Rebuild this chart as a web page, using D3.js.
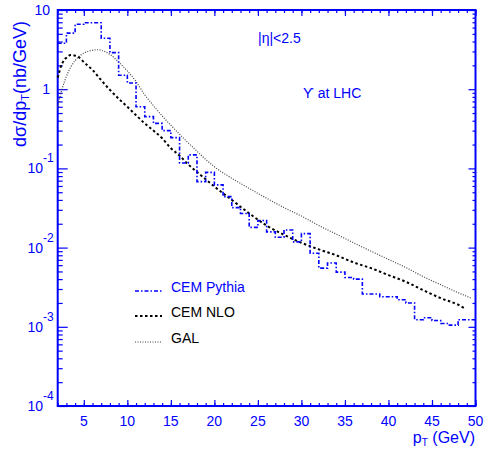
<!DOCTYPE html>
<html>
<head>
<meta charset="utf-8">
<script src="https://cdn.jsdelivr.net/npm/d3@7"></script>
<style>
  body { margin: 0; background: #fff; }
  text { font-family: "Liberation Sans", Arial, sans-serif; }
</style>
</head>
<body>
<div id="chart"></div>
<script>
// pT bin lower edges (1 GeV bins) and CEM Pythia histogram contents
var pythiaBins = [2,3,4,5,6,7,8,9,10,11,12,13,14,15,16,17,18,19,20,21,22,23,24,25,
  26,27,28,29,30,31,32,33,34,35,36,37,38,39,40,41,42,43,44,45,46,47,48,49];
var pythiaVals = [3.8,5.1,6.6,6.9,6.9,4.4,2.9,1.5,1.2,0.6,0.45,0.37,0.3,0.245,0.117,0.148,
  0.068,0.089,0.062,0.044,0.032,0.027,0.018,0.022,0.0158,0.0135,0.0167,0.0118,0.015,
  0.0085,0.0055,0.0064,0.0049,0.0042,0.004,0.0026,0.0026,0.0024,0.0024,0.0022,0.002,
  0.00123,0.0013,0.0012,0.0011,0.00105,0.00123,0.00123];

// CEM NLO curve
var nloPt = [2,2.5,3,3.5,4,4.5,5,6,7,8,9,10,11,12,13,14,15,16,17,18,19,20,22,24,26,28,
  30,32,34,36,38,40,42,44,46,48,48.8];
var nloVals = [1.4,2.1,2.5,2.7,2.65,2.5,2.2,1.75,1.3,0.98,0.76,0.6,0.47,0.37,0.3,0.24,
  0.18,0.145,0.112,0.09,0.073,0.059,0.04,0.027,0.019,0.0145,0.0115,0.0095,0.008,0.0065,
  0.0055,0.0045,0.0037,0.0029,0.0023,0.0019,0.0017];

// GAL curve
var galPt = [2,2.5,3,3.5,4,5,6,6.5,7,8,9,10,11,12,13,14,15,16,17,18,19,20,22,24,26,28,
  30,32,34,36,38,40,42,44,46,48,49.5];
var galVals = [0.6,1.0,1.45,1.9,2.3,2.85,3.1,3.15,3.1,2.75,2.2,1.7,1.25,0.85,0.62,0.46,
  0.35,0.27,0.21,0.165,0.13,0.105,0.075,0.056,0.042,0.032,0.025,0.019,0.0148,0.0115,
  0.009,0.0071,0.0056,0.0043,0.0034,0.0027,0.0023];

var xMajor = [5,10,15,20,25,30,35,40,45,50];
var yMajor = [1e-4,1e-3,1e-2,1e-1,1,10];
var yLabels = [["10","-4"],["10","-3"],["10","-2"],["10","-1"],["1",""],["10",""]];

var blue = "#0000ff";
var W = 484, H = 451;
var mLeft = 57.7, mRight = 475.5, mTop = 10, mBottom = 406;

var svg = d3.select("#chart").append("svg")
  .attr("width", W).attr("height", H);

var x = d3.scaleLinear().domain([2, 50]).range([mLeft, mRight]);
var y = d3.scaleLog().domain([1e-4, 10]).range([mBottom, mTop]);

// minor ticks
var xMinor = d3.range(2, 51);
var yMinor = [];
[1e-4,1e-3,1e-2,1e-1,1].forEach(function(d){
  for (var k = 2; k <= 9; k++) yMinor.push(d * k);
});

function tickAxis(axis, vals, size, tx){
  var g = svg.append("g").attr("transform", tx)
    .call(axis.tickValues(vals).tickSize(size).tickFormat(""));
  g.select(".domain").remove();
  g.selectAll("line").attr("stroke", blue).attr("stroke-width", 1.2);
  return g;
}
tickAxis(d3.axisBottom(x), xMinor, -3, "translate(0," + mBottom + ")");
tickAxis(d3.axisBottom(x), xMajor, -6, "translate(0," + mBottom + ")");
tickAxis(d3.axisTop(x), xMinor, -3, "translate(0," + mTop + ")");
tickAxis(d3.axisTop(x), xMajor, -6, "translate(0," + mTop + ")");
tickAxis(d3.axisLeft(y), yMinor, -5, "translate(" + mLeft + ",0)");
tickAxis(d3.axisLeft(y), yMajor, -10, "translate(" + mLeft + ",0)");
tickAxis(d3.axisRight(y), yMinor, -3, "translate(" + mRight + ",0)");
tickAxis(d3.axisRight(y), yMajor, -7, "translate(" + mRight + ",0)");

// frame
svg.append("rect")
  .attr("x", mLeft).attr("y", mTop)
  .attr("width", mRight - mLeft).attr("height", mBottom - mTop)
  .attr("fill", "none").attr("stroke", blue).attr("stroke-width", 2);

// x tick labels
svg.append("g").selectAll("text")
  .data(xMajor).enter().append("text")
  .attr("x", function(d){ return x(d); })
  .attr("y", 426)
  .attr("text-anchor", "middle")
  .attr("font-size", 14)
  .attr("fill", blue)
  .text(function(d){ return d; });

// y tick labels
var yl = svg.append("g").selectAll("text")
  .data(yMajor).enter().append("text")
  .attr("y", function(d){ return y(d) + 5; })
  .attr("x", function(d, i){ return yLabels[i][1] ? 43 : 50; })
  .attr("text-anchor", "end")
  .attr("font-size", 14)
  .attr("fill", blue);
yl.append("tspan").text(function(d, i){ return yLabels[i][0]; });
svg.append("g").selectAll("text")
  .data(yMajor.filter(function(d, i){ return yLabels[i][1]; })).enter().append("text")
  .attr("x", 43)
  .attr("y", function(d){ return y(d) - 6; })
  .attr("font-size", 12)
  .attr("fill", blue)
  .text(function(d){ return yLabels[yMajor.indexOf(d)][1]; });

// axis titles
var yt = svg.append("text")
  .attr("transform", "translate(26,84) rotate(-90)")
  .attr("text-anchor", "middle")
  .attr("font-size", 18)
  .attr("fill", blue);
yt.append("tspan").text("dσ/dp");
yt.append("tspan").attr("font-size", 11).attr("dy", 3).text("T");
yt.append("tspan").attr("dy", -3).text("(nb/GeV)");

var xt = svg.append("text")
  .attr("x", 475).attr("y", 443)
  .attr("text-anchor", "end")
  .attr("font-size", 16)
  .attr("fill", blue);
xt.append("tspan").text("p");
xt.append("tspan").attr("font-size", 10).attr("dy", 3).text("T");
xt.append("tspan").attr("dy", -3).text(" (GeV)");

// annotations
svg.append("text").attr("x", 258).attr("y", 43)
  .attr("font-size", 14).attr("fill", blue).text("|η|<2.5");
svg.append("text").attr("x", 303).attr("y", 98)
  .attr("font-size", 14).attr("fill", blue).text("ϒ at LHC");

// curves
var histPts = pythiaBins.map(function(d, i){ return [d, pythiaVals[i]]; });
histPts.push([50, pythiaVals[pythiaVals.length - 1]]);

var stepLine = d3.line()
  .x(function(d){ return x(d[0]); })
  .y(function(d){ return y(d[1]); })
  .curve(d3.curveStepAfter);
var smoothLine = d3.line()
  .x(function(d){ return x(d[0]); })
  .y(function(d){ return y(d[1]); })
  .curve(d3.curveMonotoneX);

var plot = svg.append("g");
plot.append("path")
  .attr("d", smoothLine(galPt.map(function(d, i){ return [d, galVals[i]]; })))
  .attr("fill", "none").attr("stroke", "#444")
  .attr("stroke-width", 1.2).attr("stroke-dasharray", "1,1.5");
plot.append("path")
  .attr("d", smoothLine(nloPt.map(function(d, i){ return [d, nloVals[i]]; })))
  .attr("fill", "none").attr("stroke", "#000")
  .attr("stroke-width", 2).attr("stroke-dasharray", "2.5,2.5");
plot.append("path")
  .attr("d", stepLine(histPts))
  .attr("fill", "none").attr("stroke", blue)
  .attr("stroke-width", 1.6).attr("stroke-dasharray", "4,2,1.5,2");

// legend
var legend = [
  {name: "CEM Pythia", color: blue, stroke: blue, w: 1.6, dash: "4,2,1.5,2", y: 292},
  {name: "CEM NLO", color: "#000", stroke: "#000", w: 2, dash: "2.5,2.5", y: 317},
  {name: "GAL", color: "#000", stroke: "#444", w: 1.2, dash: "1,1.5", y: 343}
];
var lg = svg.append("g").selectAll("g").data(legend).enter().append("g");
lg.append("line")
  .attr("x1", 135).attr("x2", 162)
  .attr("y1", function(d){ return d.y - 1; }).attr("y2", function(d){ return d.y - 1; })
  .attr("stroke", function(d){ return d.stroke; })
  .attr("stroke-width", function(d){ return d.w; })
  .attr("stroke-dasharray", function(d){ return d.dash; });
lg.append("text")
  .attr("x", 171).attr("y", function(d){ return d.y; })
  .attr("font-size", 14)
  .attr("fill", function(d){ return d.color; })
  .text(function(d){ return d.name; });
</script>
</body>
</html>
